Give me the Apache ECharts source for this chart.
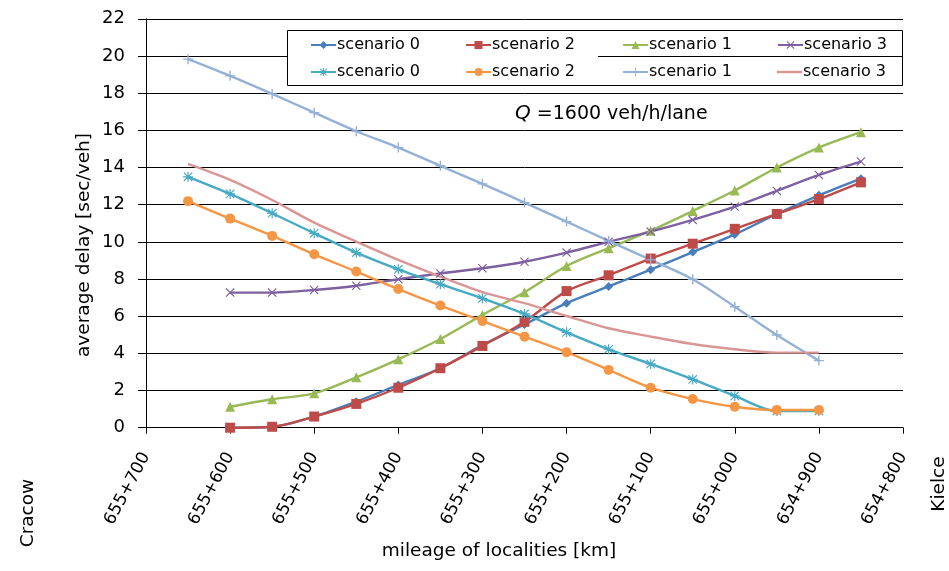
<!DOCTYPE html>
<html>
<head>
<meta charset="utf-8">
<script src="https://cdn.jsdelivr.net/npm/echarts@6/dist/echarts.min.js"></script>
<style>html,body{margin:0;padding:0;background:#fff}#c{width:949px;height:571px}</style>
</head>
<body>
<div id="c"></div>
<script>
// ---- data ----
var mileageA = [655600,655550,655500,655450,655400,655350,655300,655250,655200,655150,655100,655050,655000,654950,654900,654850];
var mileageB = [655650,655600,655550,655500,655450,655400,655350,655300,655250,655200,655150,655100,655050,655000,654950,654900];
var tickLabels = ['655+700','655+600','655+500','655+400','655+300','655+200','655+100','655+000','654+900','654+800'];
var yTicks = [0,2,4,6,8,10,12,14,16,18,20,22];

var sc0a = [0,0.05,0.6,1.4,2.3,3.2,4.45,5.55,6.7,7.6,8.5,9.45,10.4,11.5,12.5,13.4];
var sc2a = [0,0.05,0.6,1.28,2.15,3.2,4.4,5.7,7.35,8.2,9.1,9.9,10.7,11.5,12.3,13.2];
var sc1a = [1.13,1.53,1.85,2.71,3.68,4.77,6.07,7.29,8.7,9.66,10.6,11.66,12.76,14.0,15.07,15.9];
var sc3a = [7.27,7.27,7.41,7.64,7.99,8.3,8.58,8.93,9.42,10.0,10.55,11.18,11.89,12.74,13.6,14.32];
var sc0b = [13.5,12.58,11.54,10.46,9.42,8.52,7.72,6.96,6.12,5.13,4.22,3.43,2.6,1.71,0.9,0.9];
var sc2b = [12.19,11.25,10.32,9.33,8.4,7.46,6.57,5.74,4.9,4.06,3.11,2.15,1.54,1.13,0.95,0.95];
var sc1b = [19.83,18.93,17.96,16.95,15.95,15.07,14.09,13.12,12.11,11.09,10.05,9.03,7.99,6.51,4.99,3.61];
var sc3b = [14.19,13.33,12.25,11.03,10.01,9.03,8.13,7.29,6.7,6.01,5.35,4.9,4.5,4.22,4.04,4.04];

var names = ['scenario 0','scenario 2','scenario 1','scenario 3','scenario 0 ','scenario 2 ','scenario 1 ','scenario 3 '];

// ---- styles ----
var FONT = '"DejaVu Sans", sans-serif';
var plusPath = 'path://M4.3,0H5.7V4.3H10V5.7H5.7V10H4.3V5.7H0V4.3H4.3Z';
var xPath = 'path://M0.9,0L5,4.1L9.1,0L10,0.9L5.9,5L10,9.1L9.1,10L5,5.9L0.9,10L0,9.1L4.1,5L0,0.9Z';
var astPath = 'path://M4.4,0H5.6V4.4H10V5.6H5.6V10H4.4V5.6H0V4.4H4.4Z M1.2,0.4L5,4.2L8.8,0.4L9.6,1.2L5.8,5L9.6,8.8L8.8,9.6L5,5.8L1.2,9.6L0.4,8.8L4.2,5L0.4,1.2Z';
var lineIcon = 'path://M0,0H25V2.4H0Z';

function pairs(xs, ys){ return xs.map(function(x,i){ return [x, ys[i]]; }); }

function mk(name, xs, ys, color, symbol, size, w){
  return {
    name: name, type: 'line', data: pairs(xs, ys), smooth: 0.3,
    symbol: symbol, symbolSize: size, showSymbol: symbol !== 'none',
    lineStyle: {color: color, width: w || 2.4},
    itemStyle: {color: color, borderWidth: 0},
    emphasis: {disabled: true}, animation: false, z: 3
  };
}

var series = [
  mk(names[0], mileageA, sc0a, '#4A7EBB', 'diamond', 9),
  mk(names[1], mileageA, sc2a, '#BE4B48', 'rect', 10),
  mk(names[2], mileageA, sc1a, '#98B954', 'triangle', 10),
  mk(names[3], mileageA, sc3a, '#7D60A0', xPath, 9),
  mk(names[4], mileageB, sc0b, '#46AAC5', astPath, 10),
  mk(names[5], mileageB, sc2b, '#F59645', 'circle', 10),
  mk(names[6], mileageB, sc1b, '#93B1D7', plusPath, 10),
  mk(names[7], mileageB, sc3b, '#D99694', 'none', 0)
];

var legendX = [310, 465, 622, 777];
var legendY = [36, 63];
var legends = names.map(function(n, i){
  var item = {name: n};
  if (i === 7) item.icon = lineIcon;
  return {
    data: [item], left: legendX[i % 4], top: legendY[Math.floor(i / 4)],
    padding: 0, itemWidth: 25, itemHeight: 10, itemGap: 0, selectedMode: false,
    textStyle: {fontFamily: FONT, fontSize: 16, color: '#000', padding: [0,0,0,-4], lineHeight: 18},
    z: 6
  };
});

var chart = echarts.init(document.getElementById('c'), null, {renderer: 'canvas'});
chart.setOption({
  backgroundColor: '#fff',
  animation: false,
  textStyle: {fontFamily: FONT},
  grid: {left: 146, right: 46, top: 18.8, bottom: 143.3, containLabel: false},
  legend: legends,
  xAxis: {
    type: 'value', inverse: true, min: 654800, max: 655700, interval: 100,
    axisLine: {show: true, onZero: false, lineStyle: {color: '#000', width: 1}},
    axisTick: {show: true, length: 6, inside: false, lineStyle: {color: '#000'}},
    splitLine: {show: false},
    axisLabel: {
      rotate: 62, margin: 26, fontSize: 17, color: '#000', fontFamily: FONT,
      formatter: function(v){ return tickLabels[Math.round((655700 - v) / 100)]; }
    }
  },
  yAxis: {
    type: 'value', min: yTicks[0], max: yTicks[yTicks.length-1], interval: 2,
    axisLine: {show: true, lineStyle: {color: '#000', width: 1}},
    axisTick: {show: true, length: 8, lineStyle: {color: '#000'}},
    splitLine: {show: true, lineStyle: {color: '#000', width: 1}},
    axisLabel: {fontSize: 18, color: '#000', margin: 21, fontFamily: FONT}
  },
  graphic: [
    {type: 'rect', shape: {x: 287, y: 30, width: 311, height: 55}, style: {fill: '#fff'}, z: 4},
    {type: 'rect', shape: {x: 287.5, y: 30.5, width: 615, height: 55}, style: {fill: 'none', stroke: '#000', lineWidth: 1}, z: 5},
    {type: 'text', x: 515, y: 114, z: 5, style: {
      text: '{q|Q} =1600 veh/h/lane', fill: '#000', font: '19px ' + FONT, verticalAlign: 'middle', align: 'left',
      rich: {q: {fontStyle: 'italic', fontSize: 20, fontFamily: FONT, fill: '#000'}}
    }},
    {type: 'text', x: 84, y: 245, rotation: Math.PI / 2, z: 5, style: {
      text: 'average delay [sec/veh]', fill: '#000', font: '18.5px ' + FONT, align: 'center', verticalAlign: 'middle'}},
    {type: 'text', x: 499, y: 551, z: 5, style: {
      text: 'mileage of localities [km]', fill: '#000', font: '18.5px ' + FONT, align: 'center', verticalAlign: 'middle'}},
    {type: 'text', x: 28, y: 513, rotation: Math.PI / 2, z: 5, style: {
      text: 'Cracow', fill: '#000', font: '18.5px ' + FONT, align: 'center', verticalAlign: 'middle'}},
    {type: 'text', x: 939, y: 484, rotation: Math.PI / 2, z: 5, style: {
      text: 'Kielce', fill: '#000', font: '18.5px ' + FONT, align: 'center', verticalAlign: 'middle'}}
  ],
  series: series
});
</script>
</body>
</html>
